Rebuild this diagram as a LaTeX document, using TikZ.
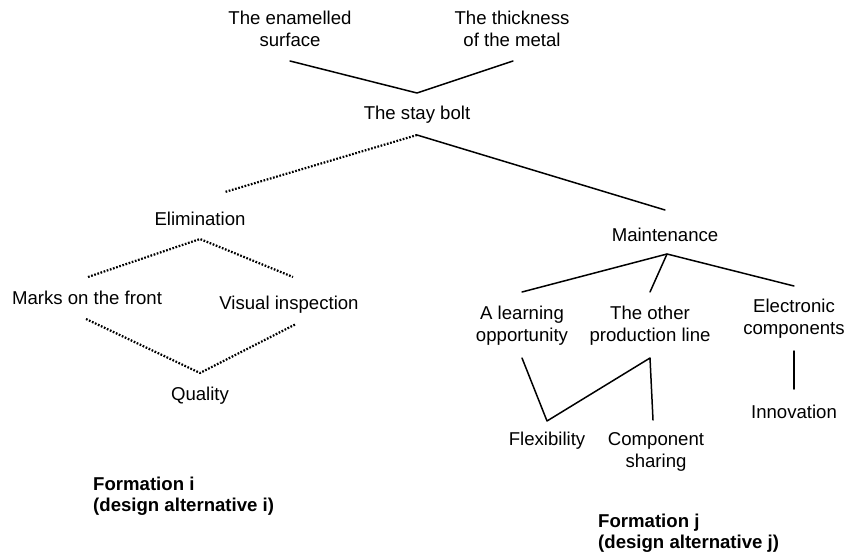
\documentclass[tikz,border=0pt]{standalone}
\usepackage{fontspec}
\setmainfont{Liberation Sans}
\begin{document}
\begin{tikzpicture}[x=1pt,y=-1pt,
  lbl/.style={inner sep=0pt,align=center,font=\fontsize{18.6}{22}\selectfont},
  caption/.style={inner sep=0pt,align=left,anchor=west,font=\fontsize{18.6}{21}\selectfont\bfseries},
  link/.style={line width=1.5pt,line cap=round,line join=round},
  dotlink/.style={line width=2.2pt,dash pattern=on 1.7pt off 1.6pt}]
\useasboundingbox (0,0) rectangle (845,551);

% factors on top
\node[lbl] (enamel) at (290,29) {The enamelled\\surface};
\node[lbl] (thick) at (512,29) {The thickness\\of the metal};
\node[lbl] (bolt) at (417,115) {The stay bolt};
\coordinate (enamelfoot) at (290,61);
\coordinate (thickfoot) at (513,61);
\coordinate (bolthead) at (417,93);
\coordinate (boltfoot) at (417,135);
\draw[link] (enamelfoot) -- (bolthead) -- (thickfoot);

% formation i
\node[lbl] (elim) at (200,219) {Elimination};
\node[lbl] (marks) at (87,298) {Marks on the front};
\node[lbl] (visual) at (289,305) {Visual inspection};
\node[lbl] (quality) at (200,396) {Quality};
\coordinate (elimhead) at (225,192);
\coordinate (elimfoot) at (200,239);
\coordinate (markshead) at (88,277);
\coordinate (visualhead) at (293,277);
\coordinate (marksfoot) at (86,319);
\coordinate (visualfoot) at (296,324);
\coordinate (qualityhead) at (200,373);
\draw[dotlink] (boltfoot) -- (elimhead);
\draw[dotlink] (markshead) -- (elimfoot) -- (visualhead);
\draw[dotlink] (marksfoot) -- (qualityhead) -- (visualfoot);

% formation j
\node[lbl] (maint) at (665,235) {Maintenance};
\node[lbl] (learn) at (522,326) {A learning\\opportunity};
\node[lbl] (other) at (650,326) {The other\\production line};
\node[lbl] (elec) at (794,319) {Electronic\\components};
\node[lbl] (innov) at (794,412) {Innovation};
\node[lbl] (flex) at (547,441) {Flexibility};
\node[lbl] (share) at (656,452) {Component\\sharing};
\coordinate (mainthead) at (665,210);
\coordinate (maintfoot) at (667,254);
\coordinate (learnhead) at (522,292);
\coordinate (otherhead) at (650,292);
\coordinate (elechead) at (794,286);
\coordinate (learnfoot) at (522,358);
\coordinate (otherfoot) at (650,358);
\coordinate (flexhead) at (547,421);
\coordinate (sharehead) at (653,420);
\coordinate (elecfoot) at (794,351);
\coordinate (innovhead) at (794,389);
\draw[link] (boltfoot) -- (mainthead);
\draw[link] (learnhead) -- (maintfoot) -- (elechead);
\draw[link] (maintfoot) -- (otherhead);
\draw[link] (learnfoot) -- (flexhead) -- (otherfoot) -- (sharehead);
\draw[link] (elecfoot) -- (innovhead);

% captions
\node[caption] (capi) at (93,496) {Formation i\\(design alternative i)};
\node[caption] (capj) at (598,533) {Formation j\\(design alternative j)};
\end{tikzpicture}
\end{document}
